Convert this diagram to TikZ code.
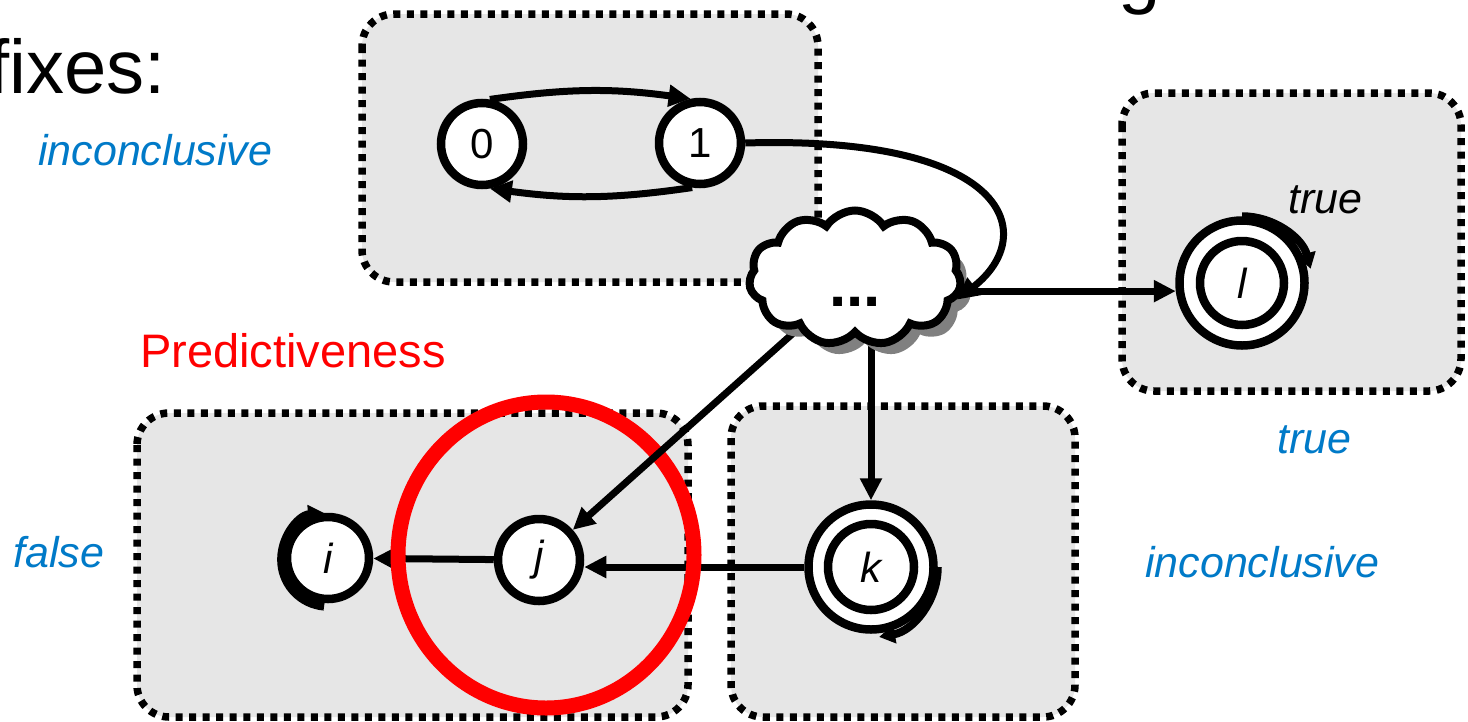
\documentclass[tikz,border=0pt]{standalone}
\usepackage{fontspec}
\setmainfont{Liberation Sans}
\usetikzlibrary{shapes.symbols,shadows,arrows.meta}
\definecolor{boxgray}{RGB}{230,230,230}
\definecolor{lblue}{RGB}{0,122,200}
\begin{document}
\begin{tikzpicture}[x=1pt,y=1pt,
  box/.style={draw=black, line width=7.5pt, dash pattern=on 7pt off 6.5pt, fill=boxgray, rounded corners=32pt},
  st/.style={circle, draw, line width=8.5pt, fill=white, minimum size=82pt, inner sep=0pt, font=\fontsize{42}{42}\selectfont},
  acc/.style={st, minimum size=125pt},
  edge/.style={line width=7pt, -{Triangle[length=22pt,width=21pt]}},
  loopedge/.style={line width=8pt, -{Triangle[length=16pt,width=18pt]}},
  loopback/.style={line width=8pt, {Triangle[length=16pt,width=18pt]}-},
  lbl/.style={text=lblue, font=\fontsize{43}{43}\selectfont\itshape, anchor=base west, inner sep=0pt},
]
\useasboundingbox (0,0) rectangle (1468,-721);
\fill[white] (0,0) rectangle (1468,-721);

% boxes
\draw[box] (362,-14) rectangle (818,-282);
\draw[box] (1122,-93) rectangle (1461,-391);
\draw[box] (137,-413) rectangle (688,-717);
\draw[box] (731,-406) rectangle (1075,-717);

% states
\node[st] (n0) at (482,-144) {0};
\node[st] (n1) at (700,-143) {1};
\node[acc] (l) at (1242,-283) {\itshape l};
\draw[line width=8.5pt] (l.center) circle[radius=42pt];
\node[acc] (k) at (871,-567) {\itshape k};
\draw[line width=8.5pt] (k.center) circle[radius=43pt];
\node[st] (i) at (328,-558) {\itshape i};
\node[st] (j) at (539,-560) {\itshape j};

% edges under the red ellipse
\draw[edge] (k.west) -- (k.west -| j.east);
\draw[edge] (j) -- (i);

% red ellipse
\draw[red, line width=15pt] (546,-555) ellipse[x radius=148, y radius=153];

% cloud position and edges starting under it
\coordinate (cc) at (855,-278);
\node[cloud, cloud puffs=11, cloud puff arc=115, aspect=1.6, minimum width=212pt, minimum height=135pt] (c0) at (cc) {};
\draw[edge] (c0) -- (j);
\draw[edge] (c0.south -| k.north) -- (k.north);
\draw[edge] (l.187 -| c0.east) -- (l.187);
\node[cloud, cloud puffs=11, cloud puff arc=115, aspect=1.6, minimum width=212pt, minimum height=135pt,
  draw, line width=8pt, fill=white,
  drop shadow={shadow xshift=10pt, shadow yshift=-11pt, fill=gray, opacity=1}] (c) at (cc) {};
\node[font=\fontsize{62}{62}\selectfont\bfseries, anchor=base, inner sep=0pt] (dots) at (855,-306) {...};

% curved edge 1 -> cloud
\draw[edge] (n1.east) .. controls (1010,-135) and (1040,-235) .. (c.-12);

% edges between 0 and 1
\draw[edge] (n0.80) to[bend left=8] (n1.102);
\draw[edge] (n1.-100) to[bend left=8] (n0.-80);

% self loops
\draw[loopback] (i.95) arc[start angle=95, end angle=265, radius=47pt];
\draw[loopedge] (k.0) arc[start angle=0, end angle=-80, radius=71pt];
\draw[loopedge] (l.90) arc[start angle=90, end angle=15, radius=71pt];

% labels
\node[lbl] (inc1) at (38,-165) {inconclusive};
\node[lbl] (tr2) at (1277,-453) {true};
\node[lbl] (inc2) at (1145,-577) {inconclusive};
\node[lbl] (fa) at (13,-567) {false};
\node[lbl, text=black] (tr1) at (1288,-213) {true};
\node[text=red, font=\fontsize{47}{47}\selectfont, anchor=base west, inner sep=0pt] (pred) at (140,-367) {Predictiveness};
\node[font=\fontsize{76}{76}\selectfont, anchor=base east, inner sep=0pt] (fix) at (166,-93) {fixes:};
\node[font=\fontsize{76}{76}\selectfont, anchor=base, inner sep=0pt] (g) at (1140,1) {g};
\end{tikzpicture}
\end{document}
